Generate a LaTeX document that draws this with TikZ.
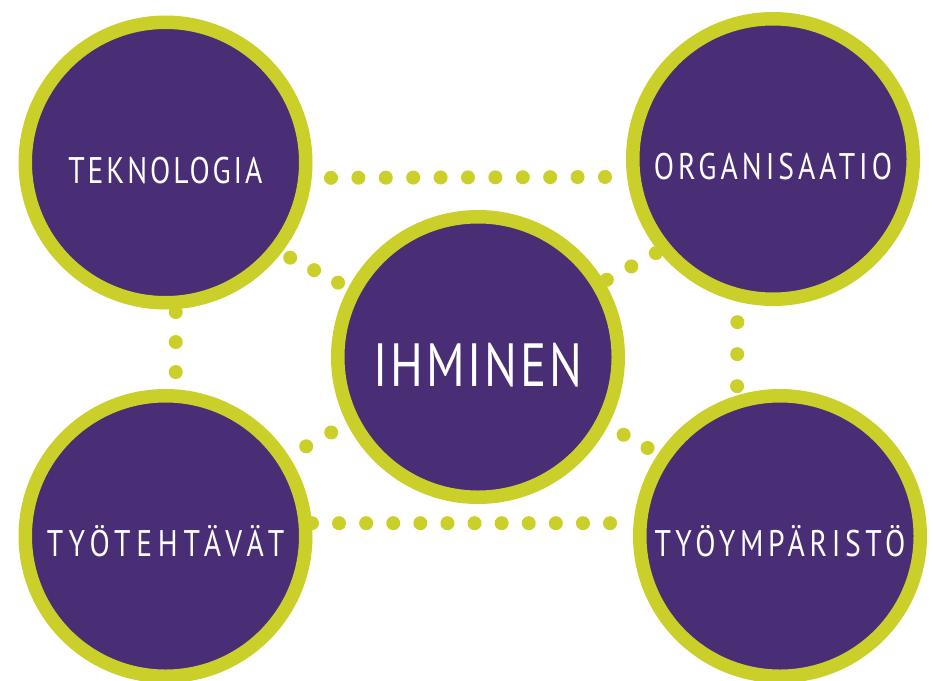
\documentclass[tikz,border=0pt]{standalone}
\usepackage{fontspec}
\newfontfamily\hubfont[FakeStretch=0.8]{PT Sans}
\usetikzlibrary{positioning,backgrounds}
\definecolor{hubpurple}{RGB}{73,45,117}
\definecolor{hubgreen}{RGB}{203,207,42}

\begin{document}
\begin{tikzpicture}[%
    x=1pt, y=-1pt,              % One unit per pixel, y runs downwards
    ]
% -------------------------------------------------
% Circle styles and the dotted connector
% (the argument of hub is the letter spacing of its label)
\tikzset{
  hub/.style={circle, draw=hubgreen, fill=hubpurple, line width=13.5pt,
    minimum size=280.5pt, inner sep=0pt, text=white,
    font={\hubfont\fontsize{37}{37}\selectfont\addfontfeature{LetterSpace=#1}},
    text height=41pt, text depth=0pt},
  hub/.default=10,
  bighub/.style={hub, font={\hubfont\fontsize{61}{61}\selectfont
      \addfontfeature{LetterSpace=4.5}},
    text height=58pt},
  % zero-length dashes with round caps give the dots
  dotline/.style={draw=hubgreen, line width=14pt, line cap=round,
    dash pattern=on 0pt off #1},
}
\useasboundingbox (0,0) rectangle (933,680);
% -------------------------------------------------
% The five circles
\node [hub=7.8] (tek) at (165.5,162.5) {TEKNOLOGIA};
\node [hub=10.8] (org) at (773,159) {ORGANISAATIO};
\node [bighub] (ihm) at (478,357) {IHMINEN};
\node [hub=15.5] (tyt) at (165.5,536) {TYÖTEHTÄVÄT};
\node [hub=12.6] (tym) at (780,536) {TYÖYMPÄRISTÖ};

% Dotted links go behind the circles
\begin{pgfonlayer}{background}
\draw [dotline=27.4pt, dash phase=8.1pt] (tek.-6) -- (org.187);
\draw [dotline=27.1pt] (tyt.5) -- (tym.175);
\draw [dotline=30pt, dash phase=27.1pt] (tek.-86) -- (tyt.86);
\draw [dotline=32pt, dash phase=11.5pt] (org.-104) -- (tym.107);
\draw [dotline=27pt, dash phase=17pt] (tek.-38) -- (ihm.152);
\draw [dotline=27.9pt, dash phase=24.6pt] (org.219) -- (ihm.31);
\draw [dotline=28.6pt, dash phase=8.7pt] (tyt.33) -- (ihm.207);
\draw [dotline=27.3pt, dash phase=9.2pt] (ihm.-28) -- (tym.146);
\end{pgfonlayer}
% -------------------------------------------------
\end{tikzpicture}
\end{document}
